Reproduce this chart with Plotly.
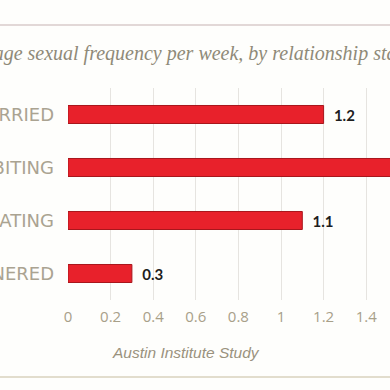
import plotly.graph_objects as go

categories = ["MARRIED", "COHABITING", "DATING", "UNPARTNERED"]
values = [1.2, 1.6, 1.1, 0.3]
x_ticks = [0, 0.2, 0.4, 0.6, 0.8, 1.0, 1.2, 1.4, 1.6]
x_tick_labels = ["0", "0.2", "0.4", "0.6", "0.8", "1", "1.2", "1.4", "1.6"]
title_text = "Average sexual frequency per week, by relationship status"
source_text = "Austin Institute Study"

W, H = 390, 390
L, R, T, B = 68, 0, 88, 90
plot_w = W - L - R
plot_h = H - T - B
px_per_unit = 213.0

def px_x(p):
    return (p - L) / plot_w

def px_y(p):
    return (H - B - p) / plot_h

fig = go.Figure()
fig.add_trace(go.Bar(
    y=categories,
    x=values,
    orientation="h",
    marker=dict(color="#e8212b", line=dict(color="#a8161c", width=1)),
    width=0.34,
    text=[f"{v:g}" for v in values],
    textposition="outside",
    texttemplate="  %{text}",
    textfont=dict(family="Lato, Open Sans, sans-serif", size=15, color="#1e1e1e", weight="bold"),
    cliponaxis=True,
    hoverinfo="skip",
))

fig.update_layout(
    width=W, height=H,
    margin=dict(l=L, r=R, t=T, b=B, pad=0),
    paper_bgcolor="#fefefc",
    plot_bgcolor="#fefefc",
    showlegend=False,
    xaxis=dict(
        range=[0, plot_w / px_per_unit],
        tickvals=x_ticks, ticktext=x_tick_labels,
        showgrid=True, gridcolor="#e6e4e0", gridwidth=1,
        zeroline=False, showline=False, ticks="",
        tickfont=dict(family="Open Sans, Lato, sans-serif", size=15, color="#a8a089"),
        ticklabelstandoff=6,
        automargin=False,
    ),
    yaxis=dict(
        autorange=False, range=[3.5, -0.5],
        showgrid=False, zeroline=False, showline=False, ticks="",
        tickfont=dict(family="DejaVu Sans", size=18, color="#aaa391"),
        ticklabelstandoff=13,
        automargin=False,
    ),
    shapes=[
        dict(type="line", xref="paper", yref="paper", x0=px_x(0), x1=px_x(W), y0=px_y(25), y1=px_y(25),
             line=dict(color="#d9cbcb", width=1.5)),
        dict(type="line", xref="paper", yref="paper", x0=px_x(0), x1=px_x(W), y0=px_y(377), y1=px_y(377),
             line=dict(color="#d8d2be", width=1.5)),
    ],
    annotations=[
        dict(text=title_text, xref="paper", yref="paper", x=px_x(187), y=px_y(53),
             xanchor="center", yanchor="middle", showarrow=False,
             font=dict(family="Liberation Serif, serif", size=20, color="#8f8a78", style="italic")),
        dict(text=source_text, xref="paper", yref="paper", x=px_x(186), y=px_y(352),
             xanchor="center", yanchor="middle", showarrow=False,
             font=dict(family="Liberation Sans, Arial, sans-serif", size=15.5, color="#9a927e", style="italic")),
    ],
)

fig.write_html(
    "out.html",
    config={"displayModeBar": False},
    post_script="document.body.style.margin='0';document.body.style.overflow='hidden';",
)
